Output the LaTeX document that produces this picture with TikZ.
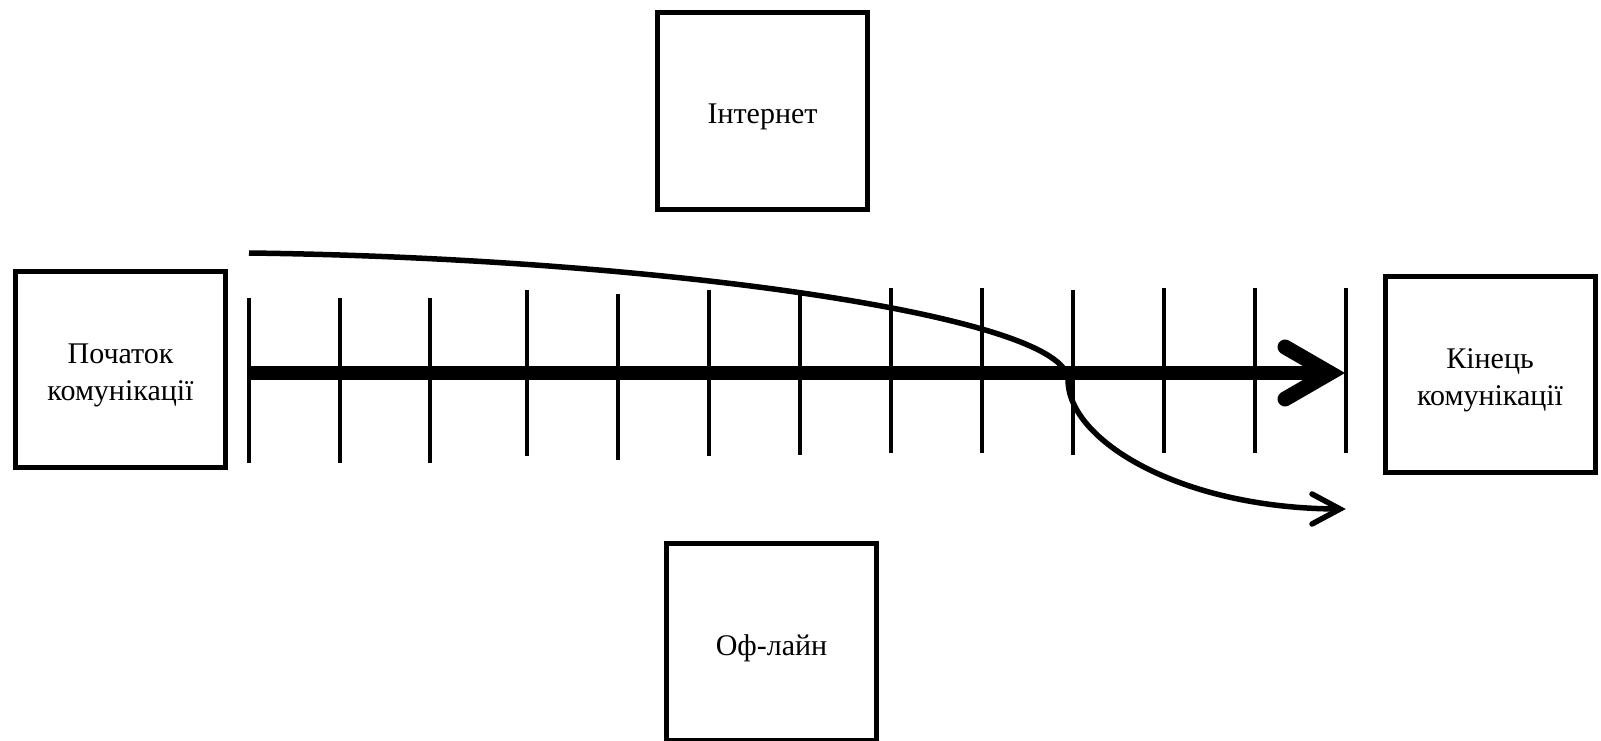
\documentclass[tikz,border=0pt]{standalone}
\usepackage{fontspec}
\setmainfont{Liberation Serif}
\begin{document}
\begin{tikzpicture}[x=1pt,y=-1pt,
  box/.style={draw, line width=5pt, minimum width=210pt, minimum height=196.5pt, inner sep=0pt},
  boxtext/.style={align=center, inner sep=0pt, font=\fontsize{30}{37}\selectfont},
  tickline/.style={line width=3.5pt},
  shaft/.style={line width=14pt},
  bighead/.style={line width=15pt, line cap=round, line join=miter},
  curveline/.style={line width=5.5pt},
  smallhead/.style={line width=5.5pt, line cap=round, line join=miter}]
\useasboundingbox (0,0) rectangle (1601,741);
% boxes
\node[box] (start) at (120.5,369.5) {};
\node[box] (net) at (762.5,111) {};
\node[box] (end) at (1490,374.5) {};
\node[box] (off) at (771.5,642) {};
\node[boxtext] at ([yshift=-6pt]start.center) {Початок\\комунікації};
\node[boxtext] at ([yshift=-6pt]net.center) {Інтернет};
\node[boxtext] at ([yshift=-6pt]end.center) {Кінець\\комунікації};
\node[boxtext] at ([yshift=-6pt]off.center) {Оф-лайн};
% ticks
\foreach \x/\t/\b [count=\i] in {249/298/463, 340/298/463, 430/298/463, 527/290/456,
  618/294/460, 709/290/456, 800/290/455, 891/288/453, 982/288/453, 1073/290/455,
  1164/288/453, 1255/288/453, 1346/288/453}{
  \coordinate (t\i a) at (\x,\t);
  \coordinate (t\i b) at (\x,\b);
  \draw[tickline] (t\i a) -- (t\i b);
}
% main arrow
\coordinate (a0) at (249,373);
\coordinate (a1) at (1322,373);
\coordinate (atip) at (1330,373);
\draw[shaft] (a0) -- (a1);
\draw[bighead] (atip) ++(-45,-26) -- (atip) -- ++(-45,26);
% curved arrow
\coordinate (c0) at (249,253);
\coordinate (cmid) at (1068,380);
\coordinate (cend) at (1340,509);
\draw[curveline] (c0) .. controls (650,258) and (1068,315) .. (cmid)
  .. controls (1068,440) and (1180,509) .. (cend);
\draw[smallhead] (cend) ++(-28,-15) -- (cend) -- ++(-28,15);
\end{tikzpicture}
\end{document}
